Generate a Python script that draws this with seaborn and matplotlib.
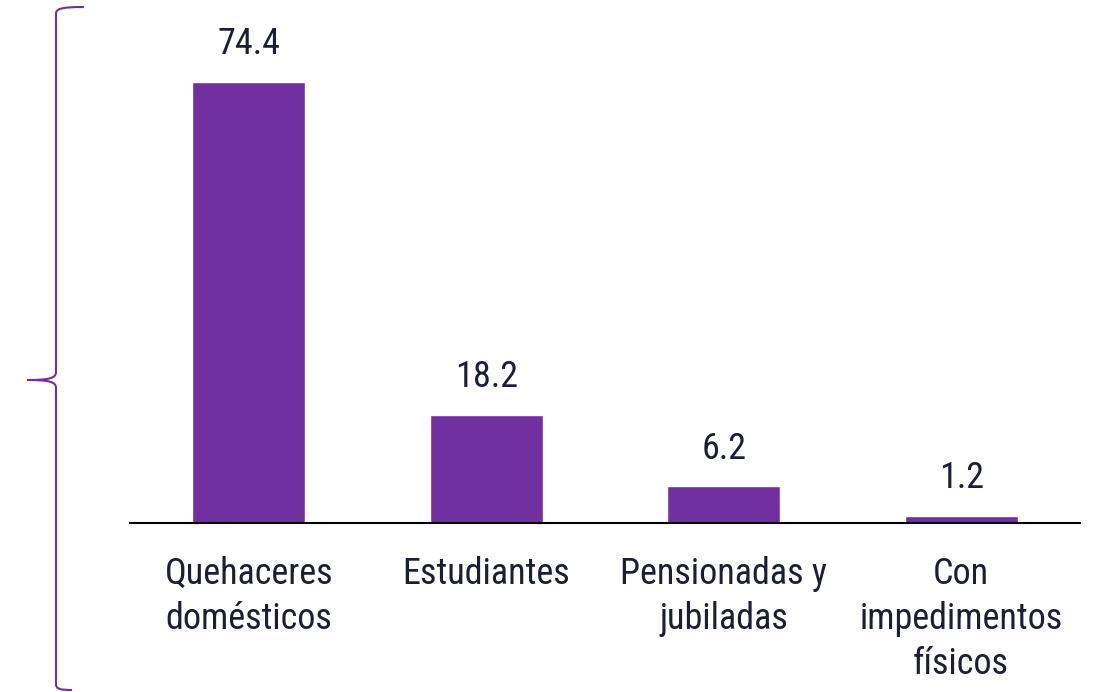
import numpy as np
import pandas as pd
import matplotlib.pyplot as plt
import seaborn as sns
from matplotlib.path import Path
from matplotlib.patches import PathPatch

categorias = ["Quehaceres\ndomésticos", "Estudiantes", "Pensionadas y\njubiladas",
              "Con\nimpedimentos\nfísicos"]
valores = [74.4, 18.2, 6.2, 1.2]

morado = "#7030A0"
texto = "#1a1f36"

sns.set_theme(style="white")
plt.rcParams["font.family"] = ["Roboto Condensed", "Liberation Sans Narrow", "Roboto", "DejaVu Sans"]

df = pd.DataFrame({"categoria": categorias, "valor": valores})

fig = plt.figure(figsize=(10.94, 6.92), dpi=100)
ax = fig.add_axes([130 / 1094, 1 - 523 / 692, 950 / 1094, 513 / 692])

sns.barplot(data=df, x="categoria", y="valor", color=morado, width=0.475,
            saturation=1, ax=ax)

for i, v in enumerate(valores):
    ax.text(i, v + 3.3, f"{v:.1f}", ha="center", va="bottom", fontsize=26, color=texto)

ax.set_xlim(-0.5, 3.5)
ax.set_ylim(0, 86.5)
ax.set_xlabel("")
ax.set_ylabel("")
ax.set_yticks([])
for s in ["top", "right", "left"]:
    ax.spines[s].set_visible(False)
ax.spines["bottom"].set_color("black")
ax.spines["bottom"].set_linewidth(1.5)
ax.tick_params(axis="x", length=0, pad=24, labelsize=26, labelcolor=texto)
for lbl in ax.get_xticklabels():
    lbl.set_linespacing(1.32)
    lbl.set_va("top")

# llave decorativa a la izquierda
W, H = 1094, 692
def px(x, y):
    return (x / W, 1 - y / H)

verts = [px(84, 7), px(60, 7), px(56, 9), px(56, 14),
         px(56, 372),
         px(56, 378), px(50, 380), px(27, 380),
         px(50, 380), px(56, 382), px(56, 388),
         px(56, 684),
         px(56, 689), px(60, 690), px(72, 690)]
codes = [Path.MOVETO, Path.CURVE4, Path.CURVE4, Path.CURVE4,
         Path.LINETO,
         Path.CURVE4, Path.CURVE4, Path.CURVE4,
         Path.CURVE4, Path.CURVE4, Path.CURVE4,
         Path.LINETO,
         Path.CURVE4, Path.CURVE4, Path.CURVE4]
fig.patches.append(PathPatch(Path(verts, codes), transform=fig.transFigure,
                             facecolor="none", edgecolor=morado, linewidth=1.5))

fig.savefig("out.png", dpi=100)
